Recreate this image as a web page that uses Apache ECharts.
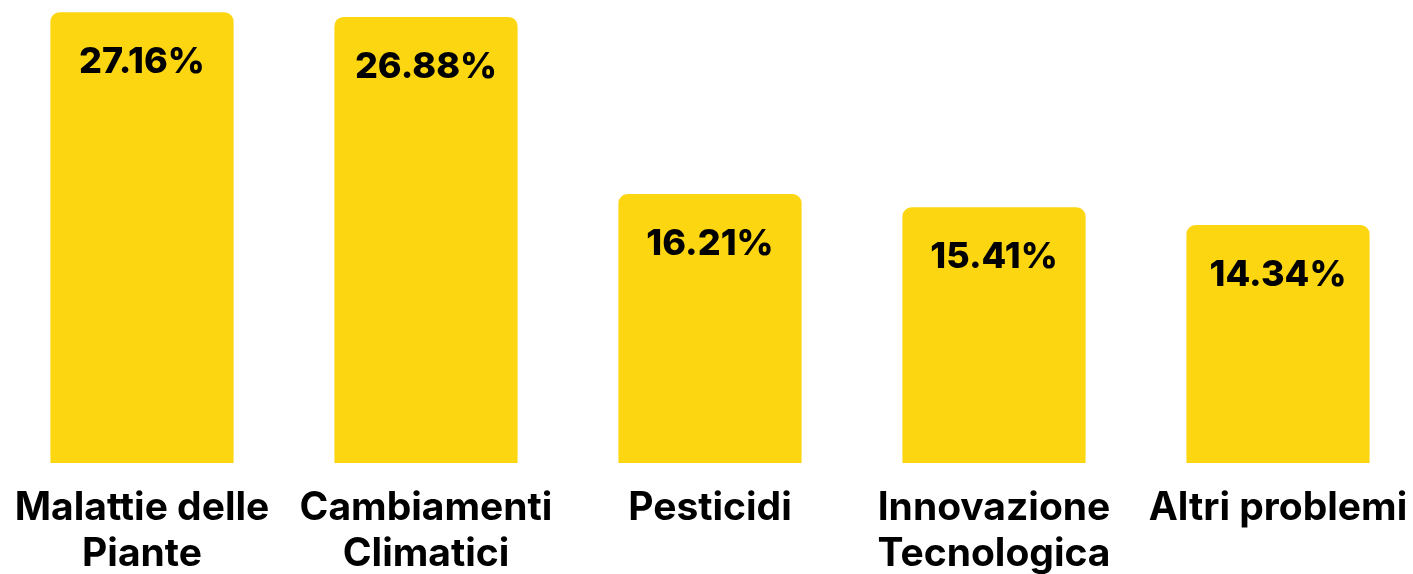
<!DOCTYPE html>
<html>
<head>
<meta charset="utf-8">
<script src="https://cdn.jsdelivr.net/npm/echarts@6/dist/echarts.min.js"></script>
<style>
html,body{margin:0;padding:0;background:#fff;}
#chart{width:1413px;height:574px;}
</style>
</head>
<body>
<div id="chart"></div>
<script>
const categories = ['Malattie delle\nPiante', 'Cambiamenti\nClimatici', 'Pesticidi', 'Innovazione\nTecnologica', 'Altri problemi'];
const values = [27.16, 26.88, 16.21, 15.41, 14.34];

const chart = echarts.init(document.getElementById('chart'));
chart.setOption({
  animation: false,
  grid: { left: 0, top: 0, width: 1420, height: 463, containLabel: false, outerBoundsMode: 'none' },
  xAxis: {
    type: 'category',
    data: categories,
    axisLine: { show: false },
    axisTick: { show: false },
    axisLabel: {
      interval: 0,
      margin: 22,
      color: '#000',
      fontFamily: 'Inter',
      fontWeight: 700,
      fontSize: 39,
      lineHeight: 46
    }
  },
  yAxis: {
    type: 'value',
    min: 0,
    max: 27.9,
    show: false,
    splitLine: { show: false }
  },
  series: [{
    type: 'bar',
    data: values,
    barWidth: '64.5%',
    itemStyle: { color: '#FCD711', borderRadius: [9, 9, 0, 0] },
    label: {
      show: true,
      position: 'insideTop',
      distance: 32,
      formatter: p => p.value.toFixed(2) + '%',
      color: '#000',
      fontFamily: 'Inter',
      fontWeight: 800,
      fontSize: 36
    }
  }]
});
</script>
</body>
</html>
